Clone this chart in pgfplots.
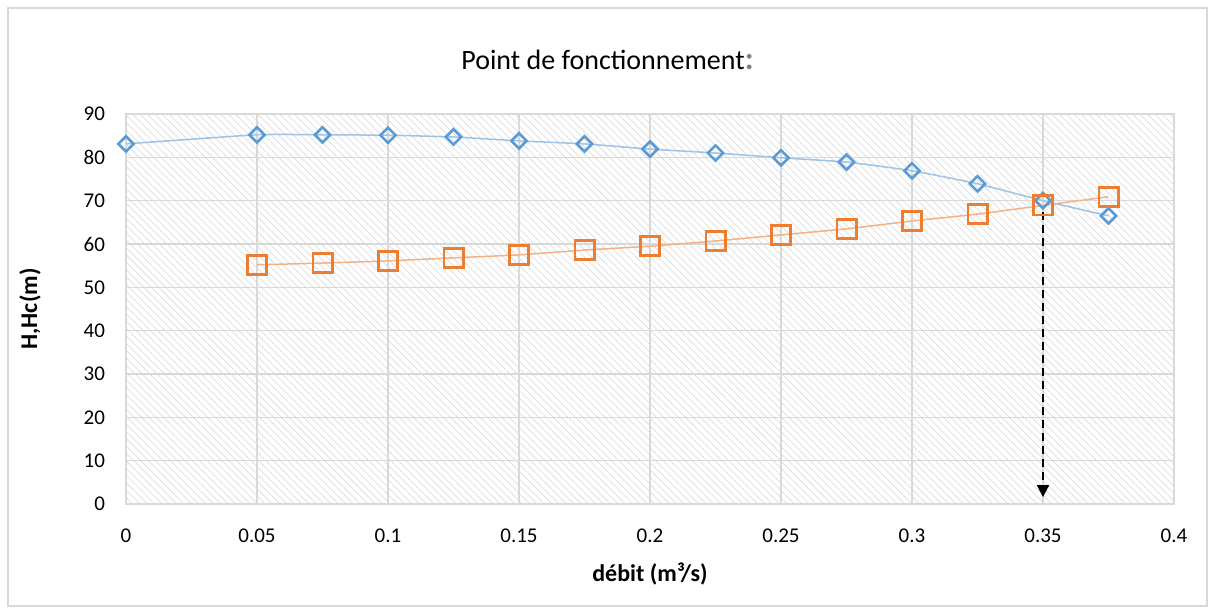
\documentclass[border=0pt]{standalone}
\usepackage{fontspec}
\setmainfont{Carlito}
\usepackage{pgfplots}
\pgfplotsset{compat=1.18}
\usetikzlibrary{patterns.meta,arrows.meta}
\definecolor{blueM}{HTML}{5B9BD5}
\definecolor{blueL}{HTML}{9DC3E6}
\definecolor{orangeM}{HTML}{ED7D31}
\definecolor{orangeL}{HTML}{F4B183}
\definecolor{gridc}{HTML}{D9D9D9}
\begin{document}
\begin{tikzpicture}
\begin{axis}[
  name=ax,
  scale only axis,
  width=524pt, height=195pt,
  xmin=0, xmax=0.4, ymin=0, ymax=90,
  xtick={0,0.05,0.1,0.15,0.2,0.25,0.3,0.35,0.4},
  xticklabels={0,0.05,0.1,0.15,0.2,0.25,0.3,0.35,0.4},
  ytick={0,10,...,90},
  /pgf/number format/assume math mode=true,
  tick label style={font=\fontsize{10.5}{12}\selectfont, black},
  major tick length=0pt,
  xticklabel style={yshift=-9pt},
  yticklabel style={xshift=-7pt},
  grid=major,
  major grid style={gridc, line width=0.75pt},
  axis line style={gridc, line width=0.75pt},
  axis background/.style={pattern={Lines[angle=-45,distance=2.6pt,line width=0.35pt]}, pattern color=gray!28},
  title={Point de fonctionnement{\color{gray}\fontsize{16}{16}\selectfont\textbf{:}}},
  title style={font=\fontsize{14}{16}\selectfont, anchor=center, at={(0.5,1)}, yshift=21pt, xshift=-21.25pt},
  xlabel={\textbf{débit (m³/s)}},
  ylabel={\textbf{H,Hc(m)}},
  xlabel style={font=\fontsize{12}{14}\selectfont, anchor=center, at={(0.5,0)}, yshift=-35pt},
  ylabel style={font=\fontsize{12}{14}\selectfont, anchor=center, at={(0,0.5)}, yshift=48pt},
  clip=false,
]
\addplot[blueL, line width=0.75pt, smooth, tension=0.3,
  mark=square, mark size=2.7pt,
  mark options={blueM, fill=white, line width=1.3pt, rotate=45, solid}]
  coordinates {(0,83.1) (0.05,85.2) (0.075,85.2) (0.1,85.1) (0.125,84.7) (0.15,83.8)
  (0.175,83.1) (0.2,81.9) (0.225,81.0) (0.25,79.9) (0.275,78.9) (0.3,76.9)
  (0.325,73.9) (0.35,70.0) (0.375,66.5)};
\addplot[orangeL, line width=0.75pt, smooth, tension=0.3,
  mark=square, mark size=4.8pt,
  mark options={orangeM, fill=white, line width=1.4pt, solid}]
  coordinates {(0.05,55.2) (0.075,55.6) (0.1,56.1) (0.125,56.8) (0.15,57.5)
  (0.175,58.6) (0.2,59.5) (0.225,60.7) (0.25,62.1) (0.275,63.5) (0.3,65.3)
  (0.325,66.9) (0.35,68.9) (0.375,70.9)};
\addplot[black, line width=1pt, dash pattern=on 4pt off 2.5pt, -{Triangle[length=6pt,width=6pt]}]
  coordinates {(0.35,67.3) (0.35,1.6)};
\end{axis}
\useasboundingbox ([shift={(-63pt,-55pt)}]ax.south west) rectangle ++(607.5pt,307pt);
\draw[gridc, line width=0.6pt] ([shift={(-59pt,-51pt)}]ax.south west) rectangle ++(599.5pt,299pt);
\end{tikzpicture}
\end{document}
